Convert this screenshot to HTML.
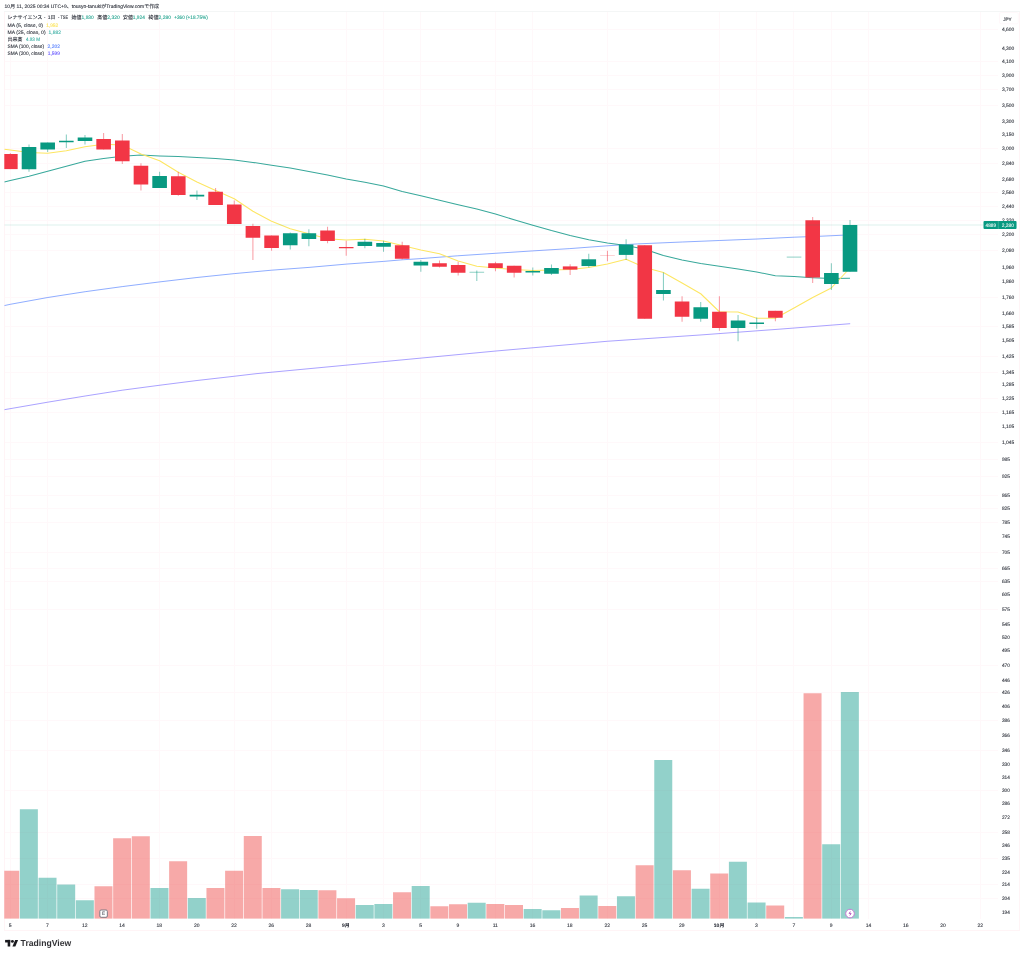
<!DOCTYPE html>
<html lang="ja"><head><meta charset="utf-8"><title>レナサイエンス 4889 - TradingView</title>
<style>
html,body{margin:0;padding:0;background:#fff;}
body{width:1024px;height:956px;overflow:hidden;}
svg{display:block;}
text{font-family:"Liberation Sans","Noto Sans CJK JP",sans-serif;font-size:5px;fill:#131722;stroke:#131722;stroke-width:0.09px;paint-order:stroke;fill-opacity:0.9;text-rendering:geometricPrecision;}
.b{font-weight:bold;}
</style></head><body>
<svg width="1024" height="956" viewBox="0 0 1024 956">
<rect x="0" y="0" width="1024" height="956" fill="#ffffff"/>
<g fill="#fff8fa" shape-rendering="crispEdges">
<rect x="10" y="12" width="1" height="907"/>
<rect x="47" y="12" width="1" height="907"/>
<rect x="159" y="12" width="1" height="907"/>
<rect x="234" y="12" width="1" height="907"/>
<rect x="271" y="12" width="1" height="907"/>
<rect x="346" y="12" width="1" height="907"/>
<rect x="383" y="12" width="1" height="907"/>
<rect x="420" y="12" width="1" height="907"/>
<rect x="495" y="12" width="1" height="907"/>
<rect x="532" y="12" width="1" height="907"/>
<rect x="607" y="12" width="1" height="907"/>
<rect x="719" y="12" width="1" height="907"/>
<rect x="756" y="12" width="1" height="907"/>
<rect x="793" y="12" width="1" height="907"/>
<rect x="831" y="12" width="1" height="907"/>
<rect x="868" y="12" width="1" height="907"/>
<rect x="980" y="12" width="1" height="907"/>
<rect x="5" y="29" width="993" height="1"/>
<rect x="5" y="61" width="993" height="1"/>
<rect x="5" y="75" width="993" height="1"/>
<rect x="5" y="89" width="993" height="1"/>
<rect x="5" y="105" width="993" height="1"/>
<rect x="5" y="148" width="993" height="1"/>
<rect x="5" y="163" width="993" height="1"/>
<rect x="5" y="192" width="993" height="1"/>
<rect x="5" y="206" width="993" height="1"/>
<rect x="5" y="220" width="993" height="1"/>
<rect x="5" y="234" width="993" height="1"/>
<rect x="5" y="250" width="993" height="1"/>
<rect x="5" y="297" width="993" height="1"/>
<rect x="5" y="326" width="993" height="1"/>
<rect x="5" y="356" width="993" height="1"/>
<rect x="5" y="372" width="993" height="1"/>
<rect x="5" y="398" width="993" height="1"/>
<rect x="5" y="412" width="993" height="1"/>
<rect x="5" y="442" width="993" height="1"/>
<rect x="5" y="459" width="993" height="1"/>
<rect x="5" y="476" width="993" height="1"/>
<rect x="5" y="495" width="993" height="1"/>
<rect x="5" y="508" width="993" height="1"/>
<rect x="5" y="522" width="993" height="1"/>
<rect x="5" y="552" width="993" height="1"/>
<rect x="5" y="568" width="993" height="1"/>
<rect x="5" y="581" width="993" height="1"/>
<rect x="5" y="609" width="993" height="1"/>
<rect x="5" y="665" width="993" height="1"/>
<rect x="5" y="692" width="993" height="1"/>
<rect x="5" y="720" width="993" height="1"/>
<rect x="5" y="750" width="993" height="1"/>
<rect x="5" y="790" width="993" height="1"/>
<rect x="5" y="832" width="993" height="1"/>
<rect x="5" y="858" width="993" height="1"/>
<rect x="5" y="884" width="993" height="1"/>
<rect x="5" y="898" width="993" height="1"/>
</g>
<g shape-rendering="crispEdges" fill="#fff4f6"><rect x="4" y="11" width="1" height="920"/><rect x="1019" y="11" width="1" height="920"/><rect x="4" y="930" width="1016" height="1"/><rect x="4" y="11" width="1016" height="1" fill="#f4f6f6"/></g>
<defs><clipPath id="cp"><rect x="4.30" y="11.30" width="993.30" height="907.50"/></clipPath></defs>
<g clip-path="url(#cp)">
<rect x="1.20" y="870.75" width="18.00" height="48.05" fill="#ed403e" fill-opacity="0.45"/>
<rect x="19.86" y="809.25" width="18.00" height="109.55" fill="#0d9989" fill-opacity="0.45"/>
<rect x="38.52" y="877.75" width="18.00" height="41.05" fill="#0d9989" fill-opacity="0.45"/>
<rect x="57.18" y="884.50" width="18.00" height="34.30" fill="#0d9989" fill-opacity="0.45"/>
<rect x="75.84" y="900.25" width="18.00" height="18.55" fill="#0d9989" fill-opacity="0.45"/>
<rect x="94.49" y="886.25" width="18.00" height="32.55" fill="#ed403e" fill-opacity="0.45"/>
<rect x="113.15" y="838.25" width="18.00" height="80.55" fill="#ed403e" fill-opacity="0.45"/>
<rect x="131.81" y="836.25" width="18.00" height="82.55" fill="#ed403e" fill-opacity="0.45"/>
<rect x="150.47" y="888.00" width="18.00" height="30.80" fill="#0d9989" fill-opacity="0.45"/>
<rect x="169.13" y="861.25" width="18.00" height="57.55" fill="#ed403e" fill-opacity="0.45"/>
<rect x="187.79" y="898.00" width="18.00" height="20.80" fill="#0d9989" fill-opacity="0.45"/>
<rect x="206.45" y="888.00" width="18.00" height="30.80" fill="#ed403e" fill-opacity="0.45"/>
<rect x="225.11" y="870.75" width="18.00" height="48.05" fill="#ed403e" fill-opacity="0.45"/>
<rect x="243.77" y="836.00" width="18.00" height="82.80" fill="#ed403e" fill-opacity="0.45"/>
<rect x="262.43" y="888.00" width="18.00" height="30.80" fill="#ed403e" fill-opacity="0.45"/>
<rect x="281.09" y="889.25" width="18.00" height="29.55" fill="#0d9989" fill-opacity="0.45"/>
<rect x="299.74" y="890.00" width="18.00" height="28.80" fill="#0d9989" fill-opacity="0.45"/>
<rect x="318.40" y="890.25" width="18.00" height="28.55" fill="#ed403e" fill-opacity="0.45"/>
<rect x="337.06" y="898.25" width="18.00" height="20.55" fill="#ed403e" fill-opacity="0.45"/>
<rect x="355.72" y="905.00" width="18.00" height="13.80" fill="#0d9989" fill-opacity="0.45"/>
<rect x="374.38" y="904.00" width="18.00" height="14.80" fill="#0d9989" fill-opacity="0.45"/>
<rect x="393.04" y="892.25" width="18.00" height="26.55" fill="#ed403e" fill-opacity="0.45"/>
<rect x="411.70" y="886.00" width="18.00" height="32.80" fill="#0d9989" fill-opacity="0.45"/>
<rect x="430.36" y="906.25" width="18.00" height="12.55" fill="#ed403e" fill-opacity="0.45"/>
<rect x="449.02" y="904.25" width="18.00" height="14.55" fill="#ed403e" fill-opacity="0.45"/>
<rect x="467.68" y="902.75" width="18.00" height="16.05" fill="#0d9989" fill-opacity="0.45"/>
<rect x="486.33" y="904.00" width="18.00" height="14.80" fill="#ed403e" fill-opacity="0.45"/>
<rect x="504.99" y="905.00" width="18.00" height="13.80" fill="#ed403e" fill-opacity="0.45"/>
<rect x="523.65" y="909.00" width="18.00" height="9.80" fill="#0d9989" fill-opacity="0.45"/>
<rect x="542.31" y="910.25" width="18.00" height="8.55" fill="#0d9989" fill-opacity="0.45"/>
<rect x="560.97" y="908.00" width="18.00" height="10.80" fill="#ed403e" fill-opacity="0.45"/>
<rect x="579.63" y="895.50" width="18.00" height="23.30" fill="#0d9989" fill-opacity="0.45"/>
<rect x="598.29" y="906.00" width="18.00" height="12.80" fill="#ed403e" fill-opacity="0.45"/>
<rect x="616.95" y="896.25" width="18.00" height="22.55" fill="#0d9989" fill-opacity="0.45"/>
<rect x="635.61" y="865.25" width="18.00" height="53.55" fill="#ed403e" fill-opacity="0.45"/>
<rect x="654.26" y="760.00" width="18.00" height="158.80" fill="#0d9989" fill-opacity="0.45"/>
<rect x="672.92" y="870.25" width="18.00" height="48.55" fill="#ed403e" fill-opacity="0.45"/>
<rect x="691.58" y="888.75" width="18.00" height="30.05" fill="#0d9989" fill-opacity="0.45"/>
<rect x="710.24" y="873.50" width="18.00" height="45.30" fill="#ed403e" fill-opacity="0.45"/>
<rect x="728.90" y="861.75" width="18.00" height="57.05" fill="#0d9989" fill-opacity="0.45"/>
<rect x="747.56" y="902.50" width="18.00" height="16.30" fill="#0d9989" fill-opacity="0.45"/>
<rect x="766.22" y="905.50" width="18.00" height="13.30" fill="#ed403e" fill-opacity="0.45"/>
<rect x="784.88" y="917.00" width="18.00" height="1.80" fill="#0d9989" fill-opacity="0.45"/>
<rect x="803.54" y="693.25" width="18.00" height="225.55" fill="#ed403e" fill-opacity="0.45"/>
<rect x="822.20" y="844.25" width="18.00" height="74.55" fill="#0d9989" fill-opacity="0.45"/>
<rect x="840.86" y="692.00" width="18.00" height="226.80" fill="#0d9989" fill-opacity="0.45"/>
<polyline points="4.30,305.60 10.30,304.30 47.70,297.50 85.20,291.70 122.30,286.60 159.70,281.90 196.90,277.50 234.40,273.60 271.60,270.20 309.00,267.40 346.40,264.10 383.60,261.40 402.30,259.80 420.80,258.60 457.50,255.80 495.30,253.30 532.80,250.90 569.80,248.60 607.20,245.80 637.50,243.90 682.30,242.00 719.50,240.50 757.00,239.00 794.20,237.20 820.00,236.25 842.70,235.20 850.20,234.85" fill="none" stroke="#2962ff" stroke-width="0.85" stroke-opacity="0.62" stroke-linejoin="round" stroke-linecap="butt"/>
<polyline points="4.30,409.70 47.70,402.20 85.20,396.00 122.30,390.20 160.00,385.20 197.00,380.50 234.25,376.25 256.00,373.70 496.00,351.00 607.50,341.25 700.00,335.00 775.00,329.50 850.20,323.70" fill="none" stroke="#3d2bff" stroke-width="0.85" stroke-opacity="0.52" stroke-linejoin="round" stroke-linecap="butt"/>
<polyline points="4.30,182.10 10.35,180.60 29.01,176.25 47.67,171.25 66.33,166.25 84.99,161.25 103.64,158.50 122.30,156.20 140.96,155.00 159.62,155.90 178.28,156.60 196.94,157.50 215.60,158.60 234.26,160.00 252.92,162.40 271.58,165.20 290.24,168.00 308.89,171.60 327.55,175.00 346.21,178.90 364.87,182.30 383.53,186.00 402.19,191.40 420.85,195.80 439.51,200.20 458.17,204.70 476.82,209.10 495.48,214.10 514.14,219.70 532.80,225.20 551.46,230.60 570.12,235.40 588.78,239.70 607.44,242.90 626.10,245.50 644.76,249.20 663.41,255.60 682.07,260.00 700.73,263.60 719.39,266.30 738.05,269.00 756.71,272.00 775.37,275.80 794.03,276.60 812.69,277.70 831.35,278.50 850.00,278.25" fill="none" stroke="#38a89b" stroke-width="1.05" stroke-opacity="1" stroke-linejoin="round" stroke-linecap="butt"/>
<polyline points="4.30,149.25 10.35,150.00 29.01,152.50 47.67,153.25 66.33,150.75 84.99,146.75 103.64,144.25 122.30,145.00 140.96,154.00 159.62,160.80 178.28,172.20 196.94,182.00 215.60,190.60 234.26,198.75 252.92,211.25 271.58,221.25 290.24,228.75 308.89,233.75 327.55,238.75 346.21,240.00 364.87,239.25 383.53,241.00 402.19,245.50 420.85,250.00 439.51,253.75 458.17,261.00 476.82,266.25 495.48,268.00 514.14,269.50 532.80,270.50 551.46,270.00 570.12,269.50 588.78,267.50 607.44,264.00 626.10,259.25 644.76,267.50 663.41,272.50 682.07,283.00 700.73,293.75 719.39,311.75 738.05,312.00 756.71,318.25 775.37,318.25 794.03,308.00 812.69,297.50 831.35,288.00 850.00,268.00" fill="none" stroke="#fde662" stroke-width="1.05" stroke-opacity="1" stroke-linejoin="round" stroke-linecap="butt"/>
<line x1="10.35" y1="153.10" x2="10.35" y2="169.10" stroke="#f23645" stroke-width="0.6" stroke-opacity="0.85"/>
<rect x="3.05" y="154.00" width="14.60" height="15.10" fill="#f23645" fill-opacity="1"/>
<line x1="29.01" y1="144.50" x2="29.01" y2="171.75" stroke="#089981" stroke-width="0.6" stroke-opacity="0.85"/>
<rect x="21.71" y="147.00" width="14.60" height="22.25" fill="#089981" fill-opacity="1"/>
<line x1="47.67" y1="142.50" x2="47.67" y2="152.00" stroke="#089981" stroke-width="0.6" stroke-opacity="0.85"/>
<rect x="40.37" y="142.50" width="14.60" height="7.00" fill="#089981" fill-opacity="1"/>
<line x1="66.33" y1="134.50" x2="66.33" y2="148.00" stroke="#089981" stroke-width="0.6" stroke-opacity="0.85"/>
<rect x="59.03" y="140.75" width="14.60" height="1.50" fill="#089981" fill-opacity="1"/>
<line x1="84.99" y1="135.00" x2="84.99" y2="144.50" stroke="#089981" stroke-width="0.6" stroke-opacity="0.85"/>
<rect x="77.69" y="137.50" width="14.60" height="3.50" fill="#089981" fill-opacity="1"/>
<line x1="103.64" y1="133.00" x2="103.64" y2="149.50" stroke="#f23645" stroke-width="0.6" stroke-opacity="0.85"/>
<rect x="96.34" y="139.00" width="14.60" height="10.50" fill="#f23645" fill-opacity="1"/>
<line x1="122.30" y1="134.00" x2="122.30" y2="164.00" stroke="#f23645" stroke-width="0.6" stroke-opacity="0.85"/>
<rect x="115.00" y="140.50" width="14.60" height="20.75" fill="#f23645" fill-opacity="1"/>
<line x1="140.96" y1="163.25" x2="140.96" y2="190.50" stroke="#f23645" stroke-width="0.6" stroke-opacity="0.85"/>
<rect x="133.66" y="165.75" width="14.60" height="18.75" fill="#f23645" fill-opacity="1"/>
<line x1="159.62" y1="171.75" x2="159.62" y2="188.00" stroke="#089981" stroke-width="0.6" stroke-opacity="0.85"/>
<rect x="152.32" y="176.00" width="14.60" height="12.00" fill="#089981" fill-opacity="1"/>
<line x1="178.28" y1="171.75" x2="178.28" y2="195.75" stroke="#f23645" stroke-width="0.6" stroke-opacity="0.85"/>
<rect x="170.98" y="176.25" width="14.60" height="18.75" fill="#f23645" fill-opacity="1"/>
<line x1="196.94" y1="190.50" x2="196.94" y2="200.00" stroke="#089981" stroke-width="0.6" stroke-opacity="0.85"/>
<rect x="189.64" y="194.75" width="14.60" height="1.75" fill="#089981" fill-opacity="1"/>
<line x1="215.60" y1="188.00" x2="215.60" y2="205.00" stroke="#f23645" stroke-width="0.6" stroke-opacity="0.85"/>
<rect x="208.30" y="191.75" width="14.60" height="13.25" fill="#f23645" fill-opacity="1"/>
<line x1="234.26" y1="200.50" x2="234.26" y2="224.00" stroke="#f23645" stroke-width="0.6" stroke-opacity="0.85"/>
<rect x="226.96" y="204.50" width="14.60" height="19.50" fill="#f23645" fill-opacity="1"/>
<line x1="252.92" y1="223.75" x2="252.92" y2="260.00" stroke="#f23645" stroke-width="0.6" stroke-opacity="0.85"/>
<rect x="245.62" y="226.00" width="14.60" height="11.75" fill="#f23645" fill-opacity="1"/>
<line x1="271.58" y1="235.50" x2="271.58" y2="250.75" stroke="#f23645" stroke-width="0.6" stroke-opacity="0.85"/>
<rect x="264.28" y="235.50" width="14.60" height="12.50" fill="#f23645" fill-opacity="1"/>
<line x1="290.24" y1="232.50" x2="290.24" y2="249.50" stroke="#089981" stroke-width="0.6" stroke-opacity="0.85"/>
<rect x="282.94" y="233.25" width="14.60" height="12.00" fill="#089981" fill-opacity="1"/>
<line x1="308.89" y1="229.25" x2="308.89" y2="246.25" stroke="#089981" stroke-width="0.6" stroke-opacity="0.85"/>
<rect x="301.59" y="233.25" width="14.60" height="5.75" fill="#089981" fill-opacity="1"/>
<line x1="327.55" y1="226.75" x2="327.55" y2="243.25" stroke="#f23645" stroke-width="0.6" stroke-opacity="0.85"/>
<rect x="320.25" y="230.50" width="14.60" height="10.50" fill="#f23645" fill-opacity="1"/>
<line x1="346.21" y1="240.75" x2="346.21" y2="255.75" stroke="#f23645" stroke-width="0.6" stroke-opacity="0.85"/>
<rect x="338.91" y="247.00" width="14.60" height="1.25" fill="#f23645" fill-opacity="1"/>
<line x1="364.87" y1="238.75" x2="364.87" y2="248.25" stroke="#089981" stroke-width="0.6" stroke-opacity="0.85"/>
<rect x="357.57" y="241.75" width="14.60" height="4.25" fill="#089981" fill-opacity="1"/>
<line x1="383.53" y1="240.75" x2="383.53" y2="251.75" stroke="#089981" stroke-width="0.6" stroke-opacity="0.85"/>
<rect x="376.23" y="243.00" width="14.60" height="3.75" fill="#089981" fill-opacity="1"/>
<line x1="402.19" y1="241.75" x2="402.19" y2="259.50" stroke="#f23645" stroke-width="0.6" stroke-opacity="0.85"/>
<rect x="394.89" y="245.25" width="14.60" height="13.50" fill="#f23645" fill-opacity="1"/>
<line x1="420.85" y1="260.00" x2="420.85" y2="271.75" stroke="#089981" stroke-width="0.6" stroke-opacity="0.85"/>
<rect x="413.55" y="261.75" width="14.60" height="3.75" fill="#089981" fill-opacity="1"/>
<line x1="439.51" y1="260.50" x2="439.51" y2="267.50" stroke="#f23645" stroke-width="0.6" stroke-opacity="0.85"/>
<rect x="432.21" y="263.25" width="14.60" height="3.50" fill="#f23645" fill-opacity="1"/>
<line x1="458.17" y1="261.75" x2="458.17" y2="275.50" stroke="#f23645" stroke-width="0.6" stroke-opacity="0.85"/>
<rect x="450.87" y="265.00" width="14.60" height="7.75" fill="#f23645" fill-opacity="1"/>
<line x1="476.82" y1="270.50" x2="476.82" y2="281.00" stroke="#089981" stroke-width="0.6" stroke-opacity="0.85"/>
<rect x="469.52" y="271.75" width="14.60" height="1.00" fill="#089981" fill-opacity="0.45"/>
<line x1="495.48" y1="261.75" x2="495.48" y2="271.25" stroke="#f23645" stroke-width="0.6" stroke-opacity="0.85"/>
<rect x="488.18" y="263.25" width="14.60" height="4.75" fill="#f23645" fill-opacity="1"/>
<line x1="514.14" y1="265.75" x2="514.14" y2="277.50" stroke="#f23645" stroke-width="0.6" stroke-opacity="0.85"/>
<rect x="506.84" y="265.75" width="14.60" height="7.00" fill="#f23645" fill-opacity="1"/>
<line x1="532.80" y1="267.50" x2="532.80" y2="275.50" stroke="#089981" stroke-width="0.6" stroke-opacity="0.85"/>
<rect x="525.50" y="271.00" width="14.60" height="1.50" fill="#089981" fill-opacity="1"/>
<line x1="551.46" y1="264.50" x2="551.46" y2="275.00" stroke="#089981" stroke-width="0.6" stroke-opacity="0.85"/>
<rect x="544.16" y="268.00" width="14.60" height="5.75" fill="#089981" fill-opacity="1"/>
<line x1="570.12" y1="264.25" x2="570.12" y2="275.00" stroke="#f23645" stroke-width="0.6" stroke-opacity="0.85"/>
<rect x="562.82" y="266.40" width="14.60" height="3.20" fill="#f23645" fill-opacity="1"/>
<line x1="588.78" y1="253.75" x2="588.78" y2="267.50" stroke="#089981" stroke-width="0.6" stroke-opacity="0.85"/>
<rect x="581.48" y="259.30" width="14.60" height="6.75" fill="#089981" fill-opacity="1"/>
<line x1="607.44" y1="250.75" x2="607.44" y2="261.25" stroke="#f23645" stroke-width="0.6" stroke-opacity="0.85"/>
<rect x="600.14" y="255.50" width="14.60" height="0.50" fill="#f23645" fill-opacity="0.45"/>
<line x1="626.10" y1="239.25" x2="626.10" y2="260.00" stroke="#089981" stroke-width="0.6" stroke-opacity="0.85"/>
<rect x="618.80" y="244.50" width="14.60" height="10.40" fill="#089981" fill-opacity="1"/>
<line x1="644.76" y1="245.25" x2="644.76" y2="318.75" stroke="#f23645" stroke-width="0.6" stroke-opacity="0.85"/>
<rect x="637.46" y="245.25" width="14.60" height="73.50" fill="#f23645" fill-opacity="1"/>
<line x1="663.41" y1="272.50" x2="663.41" y2="300.50" stroke="#089981" stroke-width="0.6" stroke-opacity="0.85"/>
<rect x="656.12" y="290.00" width="14.60" height="4.00" fill="#089981" fill-opacity="1"/>
<line x1="682.07" y1="296.25" x2="682.07" y2="321.75" stroke="#f23645" stroke-width="0.6" stroke-opacity="0.85"/>
<rect x="674.77" y="301.50" width="14.60" height="15.25" fill="#f23645" fill-opacity="1"/>
<line x1="700.73" y1="302.00" x2="700.73" y2="321.75" stroke="#089981" stroke-width="0.6" stroke-opacity="0.85"/>
<rect x="693.43" y="307.25" width="14.60" height="11.50" fill="#089981" fill-opacity="1"/>
<line x1="719.39" y1="296.25" x2="719.39" y2="330.75" stroke="#f23645" stroke-width="0.6" stroke-opacity="0.85"/>
<rect x="712.09" y="311.75" width="14.60" height="16.25" fill="#f23645" fill-opacity="1"/>
<line x1="738.05" y1="315.00" x2="738.05" y2="341.25" stroke="#089981" stroke-width="0.6" stroke-opacity="0.85"/>
<rect x="730.75" y="320.50" width="14.60" height="7.50" fill="#089981" fill-opacity="1"/>
<line x1="756.71" y1="317.50" x2="756.71" y2="328.75" stroke="#089981" stroke-width="0.6" stroke-opacity="0.85"/>
<rect x="749.41" y="322.50" width="14.60" height="1.50" fill="#089981" fill-opacity="1"/>
<line x1="775.37" y1="310.80" x2="775.37" y2="321.25" stroke="#f23645" stroke-width="0.6" stroke-opacity="0.85"/>
<rect x="768.07" y="310.80" width="14.60" height="6.95" fill="#f23645" fill-opacity="1"/>
<rect x="786.73" y="256.60" width="14.60" height="1.00" fill="#089981" fill-opacity="0.45"/>
<line x1="812.69" y1="217.00" x2="812.69" y2="283.00" stroke="#f23645" stroke-width="0.6" stroke-opacity="0.85"/>
<rect x="805.39" y="220.25" width="14.60" height="57.25" fill="#f23645" fill-opacity="1"/>
<line x1="831.35" y1="263.25" x2="831.35" y2="290.00" stroke="#089981" stroke-width="0.6" stroke-opacity="0.85"/>
<rect x="824.05" y="273.00" width="14.60" height="11.00" fill="#089981" fill-opacity="1"/>
<line x1="850.00" y1="220.00" x2="850.00" y2="271.75" stroke="#089981" stroke-width="0.6" stroke-opacity="0.85"/>
<rect x="842.71" y="225.00" width="14.60" height="46.75" fill="#089981" fill-opacity="1"/>
<line x1="4.30" y1="225.0" x2="983.50" y2="225.0" stroke="#089981" stroke-opacity="0.17" stroke-width="0.8"/>
</g>
<rect x="99.84" y="910.00" width="7.5" height="7.3" rx="1.3" fill="#fff" stroke="#6f727d" stroke-width="0.9"/>
<text x="103.59" y="915.25" text-anchor="middle" style="font-size:4.6px;fill:#4a4d58;stroke:#4a4d58;fill-opacity:1">E</text>
<circle cx="850.00" cy="913.55" r="4.3" fill="#fff" stroke="#c47ad2" stroke-width="1"/>
<path d="M850.61 910.85 l-2.1 2.9 h1.6 l-0.7 2.5 l2.3 -3.1 h-1.6 z" fill="#a840b8"/>
<text x="1001.9" y="31.00" textLength="12.3" lengthAdjust="spacingAndGlyphs">4,600</text>
<text x="1001.9" y="50.00" textLength="12.3" lengthAdjust="spacingAndGlyphs">4,300</text>
<text x="1001.9" y="63.00" textLength="12.3" lengthAdjust="spacingAndGlyphs">4,100</text>
<text x="1001.9" y="77.00" textLength="12.3" lengthAdjust="spacingAndGlyphs">3,900</text>
<text x="1001.9" y="91.00" textLength="12.3" lengthAdjust="spacingAndGlyphs">3,700</text>
<text x="1001.9" y="107.00" textLength="12.3" lengthAdjust="spacingAndGlyphs">3,500</text>
<text x="1001.9" y="123.00" textLength="12.3" lengthAdjust="spacingAndGlyphs">3,300</text>
<text x="1001.9" y="136.00" textLength="12.3" lengthAdjust="spacingAndGlyphs">3,150</text>
<text x="1001.9" y="150.00" textLength="12.3" lengthAdjust="spacingAndGlyphs">3,000</text>
<text x="1001.9" y="165.00" textLength="12.3" lengthAdjust="spacingAndGlyphs">2,840</text>
<text x="1001.9" y="181.00" textLength="12.3" lengthAdjust="spacingAndGlyphs">2,680</text>
<text x="1001.9" y="194.00" textLength="12.3" lengthAdjust="spacingAndGlyphs">2,560</text>
<text x="1001.9" y="208.00" textLength="12.3" lengthAdjust="spacingAndGlyphs">2,440</text>
<text x="1001.9" y="222.00" textLength="12.3" lengthAdjust="spacingAndGlyphs">2,320</text>
<text x="1001.9" y="236.00" textLength="12.3" lengthAdjust="spacingAndGlyphs">2,200</text>
<text x="1001.9" y="252.00" textLength="12.3" lengthAdjust="spacingAndGlyphs">2,080</text>
<text x="1001.9" y="269.00" textLength="12.3" lengthAdjust="spacingAndGlyphs">1,960</text>
<text x="1001.9" y="283.00" textLength="12.3" lengthAdjust="spacingAndGlyphs">1,860</text>
<text x="1001.9" y="299.00" textLength="12.3" lengthAdjust="spacingAndGlyphs">1,760</text>
<text x="1001.9" y="315.00" textLength="12.3" lengthAdjust="spacingAndGlyphs">1,660</text>
<text x="1001.9" y="328.00" textLength="12.3" lengthAdjust="spacingAndGlyphs">1,585</text>
<text x="1001.9" y="342.00" textLength="12.3" lengthAdjust="spacingAndGlyphs">1,505</text>
<text x="1001.9" y="358.00" textLength="12.3" lengthAdjust="spacingAndGlyphs">1,425</text>
<text x="1001.9" y="374.00" textLength="12.3" lengthAdjust="spacingAndGlyphs">1,345</text>
<text x="1001.9" y="386.00" textLength="12.3" lengthAdjust="spacingAndGlyphs">1,285</text>
<text x="1001.9" y="400.00" textLength="12.3" lengthAdjust="spacingAndGlyphs">1,225</text>
<text x="1001.9" y="414.00" textLength="12.3" lengthAdjust="spacingAndGlyphs">1,165</text>
<text x="1001.9" y="428.00" textLength="12.3" lengthAdjust="spacingAndGlyphs">1,105</text>
<text x="1001.9" y="444.00" textLength="12.3" lengthAdjust="spacingAndGlyphs">1,045</text>
<text x="1001.9" y="461.00" textLength="7.9" lengthAdjust="spacingAndGlyphs">985</text>
<text x="1001.9" y="478.00" textLength="7.9" lengthAdjust="spacingAndGlyphs">925</text>
<text x="1001.9" y="497.00" textLength="7.9" lengthAdjust="spacingAndGlyphs">865</text>
<text x="1001.9" y="510.00" textLength="7.9" lengthAdjust="spacingAndGlyphs">825</text>
<text x="1001.9" y="524.00" textLength="7.9" lengthAdjust="spacingAndGlyphs">785</text>
<text x="1001.9" y="538.00" textLength="7.9" lengthAdjust="spacingAndGlyphs">745</text>
<text x="1001.9" y="554.00" textLength="7.9" lengthAdjust="spacingAndGlyphs">705</text>
<text x="1001.9" y="570.00" textLength="7.9" lengthAdjust="spacingAndGlyphs">665</text>
<text x="1001.9" y="583.00" textLength="7.9" lengthAdjust="spacingAndGlyphs">635</text>
<text x="1001.9" y="596.00" textLength="7.9" lengthAdjust="spacingAndGlyphs">605</text>
<text x="1001.9" y="611.00" textLength="7.9" lengthAdjust="spacingAndGlyphs">575</text>
<text x="1001.9" y="626.00" textLength="7.9" lengthAdjust="spacingAndGlyphs">545</text>
<text x="1001.9" y="639.00" textLength="7.9" lengthAdjust="spacingAndGlyphs">520</text>
<text x="1001.9" y="652.00" textLength="7.9" lengthAdjust="spacingAndGlyphs">495</text>
<text x="1001.9" y="667.00" textLength="7.9" lengthAdjust="spacingAndGlyphs">470</text>
<text x="1001.9" y="682.00" textLength="7.9" lengthAdjust="spacingAndGlyphs">446</text>
<text x="1001.9" y="694.00" textLength="7.9" lengthAdjust="spacingAndGlyphs">426</text>
<text x="1001.9" y="708.00" textLength="7.9" lengthAdjust="spacingAndGlyphs">406</text>
<text x="1001.9" y="722.00" textLength="7.9" lengthAdjust="spacingAndGlyphs">386</text>
<text x="1001.9" y="737.00" textLength="7.9" lengthAdjust="spacingAndGlyphs">366</text>
<text x="1001.9" y="752.00" textLength="7.9" lengthAdjust="spacingAndGlyphs">346</text>
<text x="1001.9" y="766.00" textLength="7.9" lengthAdjust="spacingAndGlyphs">330</text>
<text x="1001.9" y="779.00" textLength="7.9" lengthAdjust="spacingAndGlyphs">314</text>
<text x="1001.9" y="792.00" textLength="7.9" lengthAdjust="spacingAndGlyphs">300</text>
<text x="1001.9" y="805.00" textLength="7.9" lengthAdjust="spacingAndGlyphs">286</text>
<text x="1001.9" y="819.00" textLength="7.9" lengthAdjust="spacingAndGlyphs">272</text>
<text x="1001.9" y="834.00" textLength="7.9" lengthAdjust="spacingAndGlyphs">258</text>
<text x="1001.9" y="847.00" textLength="7.9" lengthAdjust="spacingAndGlyphs">246</text>
<text x="1001.9" y="860.00" textLength="7.9" lengthAdjust="spacingAndGlyphs">235</text>
<text x="1001.9" y="874.00" textLength="7.9" lengthAdjust="spacingAndGlyphs">224</text>
<text x="1001.9" y="886.00" textLength="7.9" lengthAdjust="spacingAndGlyphs">214</text>
<text x="1001.9" y="900.00" textLength="7.9" lengthAdjust="spacingAndGlyphs">204</text>
<text x="1001.9" y="914.00" textLength="7.9" lengthAdjust="spacingAndGlyphs">194</text>
<rect x="983.5" y="221.0" width="33.05" height="7.9" rx="1" fill="#089981"/>
<line x1="998.3" y1="221.0" x2="998.3" y2="228.9" stroke="#fff" stroke-opacity="0.4" stroke-width="0.5"/>
<text x="985.6" y="226.65" style="fill:#fff;stroke:#fff;font-size:5px" textLength="10.4" lengthAdjust="spacingAndGlyphs">4889</text>
<text x="1001.8" y="226.65" style="fill:#fff;stroke:#fff" textLength="12.1" lengthAdjust="spacingAndGlyphs">2,280</text>
<rect x="999.5" y="12.5" width="18.8" height="11.3" rx="1.6" fill="#fff" stroke="#fff4f6" stroke-width="0.6"/>
<text x="1007.4" y="20.5" text-anchor="middle" style="font-size:4.6px">JPY</text>
<text x="10.10" y="927" text-anchor="middle">5</text>
<text x="47.42" y="927" text-anchor="middle">7</text>
<text x="84.74" y="927" text-anchor="middle">12</text>
<text x="122.05" y="927" text-anchor="middle">14</text>
<text x="159.37" y="927" text-anchor="middle">18</text>
<text x="196.69" y="927" text-anchor="middle">20</text>
<text x="234.01" y="927" text-anchor="middle">22</text>
<text x="271.33" y="927" text-anchor="middle">26</text>
<text x="308.64" y="927" text-anchor="middle">28</text>
<text x="345.96" y="927" text-anchor="middle" class="b">9月</text>
<text x="383.28" y="927" text-anchor="middle">3</text>
<text x="420.60" y="927" text-anchor="middle">5</text>
<text x="457.92" y="927" text-anchor="middle">9</text>
<text x="495.23" y="927" text-anchor="middle">11</text>
<text x="532.55" y="927" text-anchor="middle">16</text>
<text x="569.87" y="927" text-anchor="middle">18</text>
<text x="607.19" y="927" text-anchor="middle">22</text>
<text x="644.51" y="927" text-anchor="middle">25</text>
<text x="681.82" y="927" text-anchor="middle">29</text>
<text x="719.14" y="927" text-anchor="middle" class="b">10月</text>
<text x="756.46" y="927" text-anchor="middle">3</text>
<text x="793.78" y="927" text-anchor="middle">7</text>
<text x="831.10" y="927" text-anchor="middle">9</text>
<text x="868.41" y="927" text-anchor="middle">14</text>
<text x="905.73" y="927" text-anchor="middle">16</text>
<text x="943.05" y="927" text-anchor="middle">20</text>
<text x="980.37" y="927" text-anchor="middle">22</text>
<text x="4.6" y="7.9" textLength="154.5" lengthAdjust="spacingAndGlyphs">10月 11, 2025 00:34 UTC+9、tousyo-tanukiがTradingView.comで作成</text>
<text x="7.50" y="19.30" textLength="34.80" lengthAdjust="spacingAndGlyphs">レナサイエンス</text>
<text x="43.90" y="19.30">·</text>
<text x="47.70" y="19.30" textLength="7.80" lengthAdjust="spacingAndGlyphs">1日</text>
<text x="57.90" y="19.30">·</text>
<text x="60.40" y="19.30" textLength="7.60" lengthAdjust="spacingAndGlyphs">TSE</text>
<text x="71.60" y="19.30" textLength="10.00" lengthAdjust="spacingAndGlyphs">始値</text>
<text x="81.60" y="19.30" textLength="12.15" lengthAdjust="spacingAndGlyphs" style="fill:#089981;stroke:#089981">1,930</text>
<text x="97.25" y="19.30" textLength="10.00" lengthAdjust="spacingAndGlyphs">高値</text>
<text x="107.25" y="19.30" textLength="12.50" lengthAdjust="spacingAndGlyphs" style="fill:#089981;stroke:#089981">2,320</text>
<text x="123.10" y="19.30" textLength="9.70" lengthAdjust="spacingAndGlyphs">安値</text>
<text x="132.80" y="19.30" textLength="12.10" lengthAdjust="spacingAndGlyphs" style="fill:#089981;stroke:#089981">1,924</text>
<text x="148.40" y="19.30" textLength="10.20" lengthAdjust="spacingAndGlyphs">終値</text>
<text x="158.60" y="19.30" textLength="12.30" lengthAdjust="spacingAndGlyphs" style="fill:#089981;stroke:#089981">2,280</text>
<text x="174.25" y="19.30" textLength="33.50" lengthAdjust="spacingAndGlyphs" style="fill:#089981;stroke:#089981">+360 (+18.75%)</text>
<text x="7.60" y="26.70" textLength="35.40" lengthAdjust="spacingAndGlyphs">MA (5, close, 0)</text>
<text x="46.20" y="26.70" textLength="12.00" lengthAdjust="spacingAndGlyphs" style="fill:#fce14b;stroke:#fce14b">1,952</text>
<text x="7.60" y="33.85" textLength="38.00" lengthAdjust="spacingAndGlyphs">MA (25, close, 0)</text>
<text x="48.60" y="33.85" textLength="12.30" lengthAdjust="spacingAndGlyphs" style="fill:#26a69a;stroke:#26a69a">1,882</text>
<text x="7.60" y="41.00" textLength="15.00" lengthAdjust="spacingAndGlyphs">出来高</text>
<text x="26.00" y="41.00" textLength="14.00" lengthAdjust="spacingAndGlyphs" style="fill:#26a69a;stroke:#26a69a">4.93 M</text>
<text x="7.60" y="48.20" textLength="36.50" lengthAdjust="spacingAndGlyphs">SMA (100, close)</text>
<text x="47.60" y="48.20" textLength="12.30" lengthAdjust="spacingAndGlyphs" style="fill:#3d6dff;stroke:#3d6dff">2,202</text>
<text x="7.60" y="55.35" textLength="36.50" lengthAdjust="spacingAndGlyphs">SMA (200, close)</text>
<text x="47.80" y="55.35" textLength="12.20" lengthAdjust="spacingAndGlyphs" style="fill:#5544ff;stroke:#5544ff">1,599</text>
<g transform="translate(5.1,938.45) scale(0.366)" fill="#1a1a1e"><rect x="0" y="4" width="14" height="7"/><rect x="7" y="4" width="7" height="18"/><circle cx="20" cy="8" r="4"/><rect x="0" y="0" width="8" height="18" transform="translate(27.5,4) skewX(-22.62)"/></g>
<text x="20.6" y="946.2" class="b" style="font-size:8.9px;fill:#1a1a1e;stroke:none" textLength="50.6" lengthAdjust="spacingAndGlyphs">TradingView</text>
</svg></body></html>
